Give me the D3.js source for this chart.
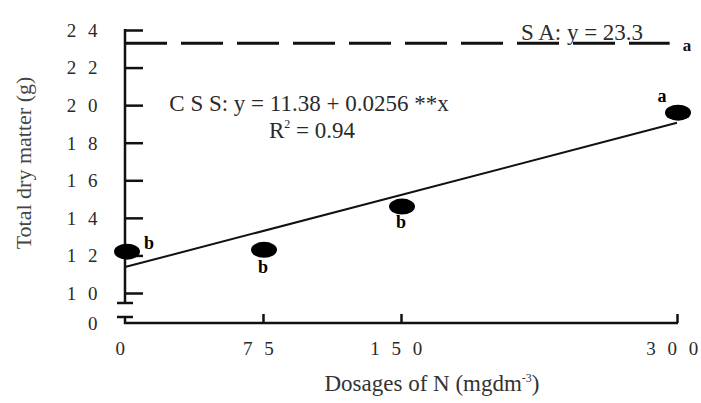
<!DOCTYPE html>
<html>
<head>
<meta charset="utf-8">
<script src="https://cdn.jsdelivr.net/npm/d3@7"></script>
<style>
  html, body { margin: 0; padding: 0; background: #fff; }
  svg { display: block; }
  text { font-family: "Liberation Serif", "Times New Roman", serif; }
</style>
</head>
<body>
<svg id="chart" width="701" height="403"></svg>
<script>
// ---- data ----
const doses = [0, 75, 150, 300];
const dryMatter = [12.2, 12.3, 14.6, 19.6];
const letters = ["b", "b", "b", "a"];
const xTicks = [0, 75, 150, 300];
const yTicks = [10, 12, 14, 16, 18, 20, 22, 24];
const saValue = 23.3;
const saLetter = "a";
const regIntercept = 11.38;
const regSlope = 0.0256;
const eqText = "C S S: y = 11.38 + 0.0256 **x";
const saText = "S A: y = 23.3";

// ---- layout ----
const svg = d3.select("#chart");
const x = d3.scaleLinear().domain([0, 300]).range([125, 677]);
const y = d3.scaleLinear().domain([10, 24]).range([293, 30]);
const axisY = 323;      // x-axis baseline (value 0, broken axis)
const ink = "#111";
const textCol = "#2a2a2a";
const spaced = v => String(v).split("").join(" ");

// y axis (upper part)
const yAxis = d3.axisRight(y).tickValues(yTicks).tickSize(18).tickFormat("");
const gy = svg.append("g").attr("transform", `translate(${x(0)},0)`).call(yAxis);
gy.select(".domain").remove();
gy.selectAll(".tick line").attr("stroke", ink).attr("stroke-width", 2.5);
svg.append("line").attr("x1", x(0)).attr("x2", x(0)).attr("y1", y(24) - 1).attr("y2", 303)
  .attr("stroke", ink).attr("stroke-width", 2.5);
// break caps
svg.append("line").attr("x1", x(0) - 8).attr("x2", x(0) + 8).attr("y1", 303).attr("y2", 303)
  .attr("stroke", ink).attr("stroke-width", 2.5);
svg.append("line").attr("x1", x(0) - 8).attr("x2", x(0) + 8).attr("y1", 317).attr("y2", 317)
  .attr("stroke", ink).attr("stroke-width", 2.5);
svg.append("line").attr("x1", x(0)).attr("x2", x(0)).attr("y1", 317).attr("y2", axisY + 1)
  .attr("stroke", ink).attr("stroke-width", 2.5);

// y tick labels
svg.append("g").selectAll("text").data(yTicks).join("text")
  .attr("x", 101).attr("y", d => y(d)).attr("dy", "0.36em")
  .attr("text-anchor", "end").attr("font-size", 19).attr("letter-spacing", 3.5)
  .attr("fill", textCol).text(d => spaced(d));
svg.append("text").attr("x", 101).attr("y", axisY).attr("dy", "0.36em")
  .attr("text-anchor", "end").attr("font-size", 19).attr("letter-spacing", 3.5)
  .attr("fill", textCol).text("0");

// x axis
const xAxis = d3.axisTop(x).tickValues(xTicks.filter(d => d > 0)).tickSize(9).tickFormat("");
const gx = svg.append("g").attr("transform", `translate(0,${axisY})`).call(xAxis);
gx.select(".domain").remove();
gx.selectAll(".tick line").attr("stroke", ink).attr("stroke-width", 2.5);
svg.append("line").attr("x1", x(0) - 1).attr("x2", x(300) + 1).attr("y1", axisY).attr("y2", axisY)
  .attr("stroke", ink).attr("stroke-width", 2.5);
svg.append("g").selectAll("text").data(xTicks).join("text")
  .attr("x", d => x(d) - 3).attr("y", 355)
  .attr("text-anchor", "middle").attr("font-size", 19).attr("letter-spacing", 3.5)
  .attr("fill", textCol).text(d => spaced(d));

// axis titles
const xt = svg.append("text").attr("x", 432).attr("y", 391).attr("text-anchor", "middle")
  .attr("font-size", 23).attr("fill", "#333");
xt.append("tspan").text("Dosages of N (mgdm");
xt.append("tspan").attr("dy", -9).attr("font-size", 12).text("-3");
xt.append("tspan").attr("dy", 9).text(")");

svg.append("text").attr("transform", "translate(31,163) rotate(-90)")
  .attr("text-anchor", "middle").attr("font-size", 22).attr("fill", "#444")
  .text("Total dry matter (g)");

// SA dashed line
svg.append("line").attr("x1", x(0)).attr("x2", x(296)).attr("y1", y(saValue)).attr("y2", y(saValue))
  .attr("stroke", ink).attr("stroke-width", 3).attr("stroke-dasharray", "42,14");
svg.append("text").attr("x", 582).attr("y", 40).attr("text-anchor", "middle")
  .attr("font-size", 23).attr("fill", textCol).text(saText);
svg.append("text").attr("x", 687).attr("y", 51).attr("text-anchor", "middle")
  .attr("font-size", 17).attr("font-weight", "bold").attr("fill", ink).text(saLetter);

// regression line
const reg = d3.line().x(d => x(d)).y(d => y(regIntercept + regSlope * d));
svg.append("path").datum([0, 300]).attr("d", reg)
  .attr("fill", "none").attr("stroke", ink).attr("stroke-width", 2);

// equation
svg.append("text").attr("x", 309).attr("y", 111).attr("text-anchor", "middle")
  .attr("font-size", 23).attr("fill", textCol).text(eqText);
const r2 = svg.append("text").attr("x", 312).attr("y", 138).attr("text-anchor", "middle")
  .attr("font-size", 23).attr("fill", textCol);
r2.append("tspan").text("R");
r2.append("tspan").attr("dy", -10).attr("font-size", 12).text("2");
r2.append("tspan").attr("dy", 10).text(" = 0.94");

// points
const pts = doses.map((d, i) => ({ x: d, y: dryMatter[i], l: letters[i] }));
svg.append("g").selectAll("ellipse").data(pts).join("ellipse")
  .attr("cx", d => x(d.x) + (d.x === 0 ? 2 : 1)).attr("cy", d => y(d.y))
  .attr("rx", 13).attr("ry", 8).attr("fill", "#000");

const labelOff = [[19, -3, "start"], [0, 23, "middle"], [0, 21, "middle"], [-15, -11, "middle"]];
svg.append("g").selectAll("text").data(pts).join("text")
  .attr("x", (d, i) => x(d.x) + labelOff[i][0])
  .attr("y", (d, i) => y(d.y) + labelOff[i][1])
  .attr("text-anchor", (d, i) => labelOff[i][2])
  .attr("font-size", 18).attr("font-weight", "bold").attr("fill", "#000")
  .text(d => d.l);
</script>
</body>
</html>
